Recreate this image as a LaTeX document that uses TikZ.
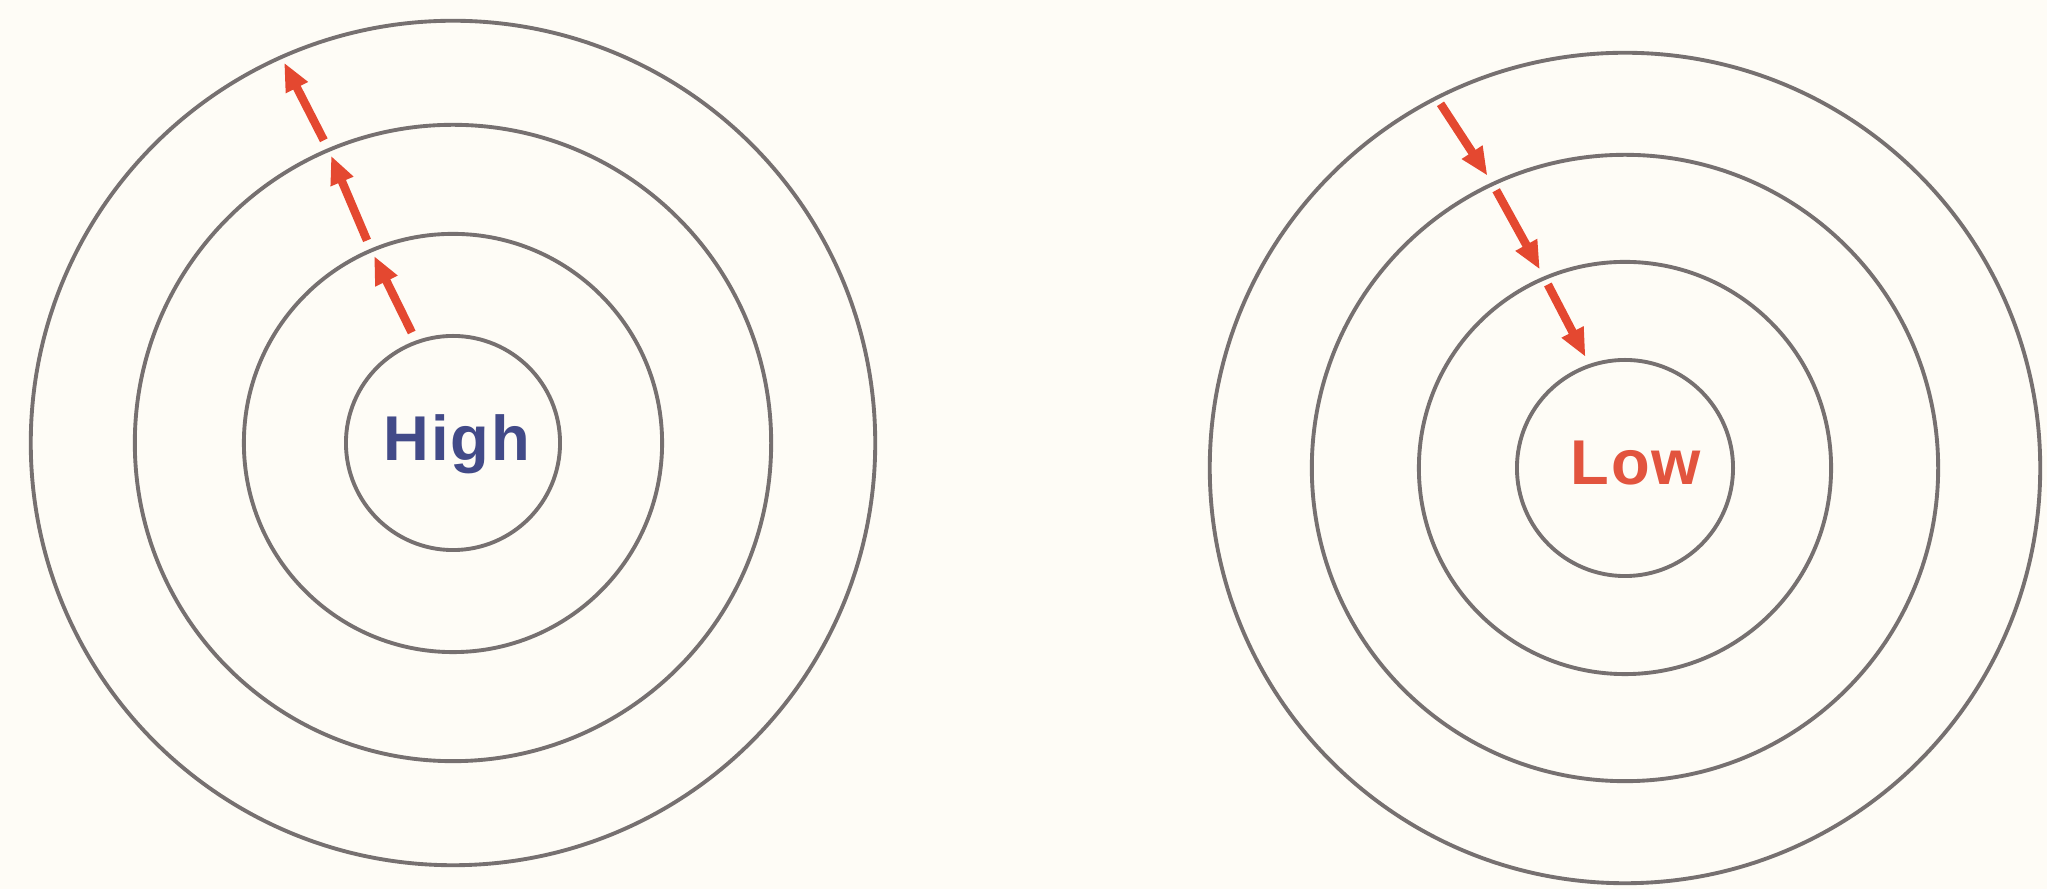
\documentclass[tikz,border=0pt]{standalone}
\usepackage{fontspec}
\setmainfont{Liberation Sans}
\usepackage{tikz}
\usetikzlibrary{arrows.meta,shapes.geometric}
\definecolor{ringgray}{RGB}{118,112,112}
\definecolor{arrowred}{RGB}{228,72,48}
\definecolor{highblue}{RGB}{66,74,136}
\definecolor{lowred}{RGB}{226,84,62}
\definecolor{paper}{RGB}{254,252,246}

\begin{document}
\begin{tikzpicture}[x=0.01cm,y=-0.01cm,
    ring/.style={circle,draw=ringgray,line width=1.1pt,inner sep=0pt},
    flow/.style={arrowred,line width=2.4pt,-{Triangle[length=8pt,width=6.5pt]},
      shorten <=0.09cm,shorten >=0.08cm},
    word/.style={font=\fontsize{18}{20}\selectfont\bfseries\addfontfeatures{LetterSpace=3}}]
  % Paper
  \fill[paper] (0,0) rectangle (2047,889);
  \useasboundingbox (0,0) rectangle (2047,889);

  % Left rings
  \foreach \d [count=\i] in {8.44,6.36,4.18,2.14}
    \node[ring,minimum size=\d cm] (high\i) at (453,443) {};
  \node[word,text=highblue] (hightxt) at (457,444) {High};

  % Right rings
  \foreach \d [count=\i] in {8.30,6.26,4.12,2.16}
    \node[ring,minimum size=\d cm] (low\i) at (1625,468) {};
  \node[word,text=lowred] (lowtxt) at (1636,463) {Low};

  % Outward arrows (high)
  \draw[flow] (high4.110) -- (high3.113);
  \draw[flow] (high3.113) -- (high2.113);
  \draw[flow] (high2.113) -- (high1.114);

  % Inward arrows (low)
  \draw[flow] (low1.117) -- (low2.115);
  \draw[flow] (low2.115) -- (low3.113);
  \draw[flow] (low3.113) -- (low4.109);
\end{tikzpicture}
\end{document}
